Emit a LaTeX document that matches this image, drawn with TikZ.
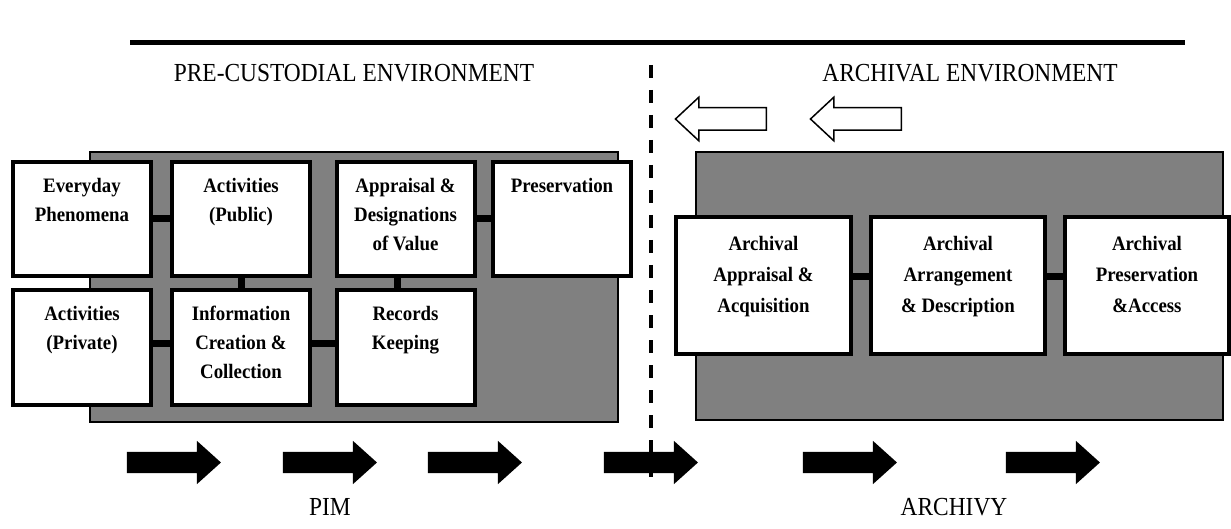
\documentclass[tikz,border=0pt]{standalone}
\usepackage{fontspec}
\setmainfont{Liberation Serif}
\newfontfamily\cardfont[FakeStretch=0.92]{Liberation Serif}
\newfontfamily\headfont[FakeStretch=0.9]{Liberation Serif}
\usetikzlibrary{positioning,shapes.arrows}

\newcommand{\cardtxt}[2]{\parbox[c][#1][t]{132pt}{\centering\cardfont\bfseries\fontsize{20.5}{29}\selectfont #2}}
\newcommand{\arctxt}[2]{\parbox[c][#1][t]{160pt}{\centering\cardfont\bfseries\fontsize{20.5}{31}\selectfont #2}}

\begin{document}
\begin{tikzpicture}[x=1pt, y=-1pt]
  % Styles
  \tikzstyle{panel}=[draw, line width=2pt, fill=black!50]
  \tikzstyle{card}=[rectangle, draw, line width=4pt, fill=white, inner sep=0pt, minimum width=138pt, minimum height=114pt]
  \tikzstyle{arcard}=[rectangle, draw, line width=4pt, fill=white, inner sep=0pt, minimum height=137pt]
  \tikzstyle{link}=[line width=7pt]
  \tikzstyle{heading}=[font=\headfont\fontsize{26}{30}\selectfont, inner sep=0pt]
  \tikzstyle{flow}=[single arrow, fill=black, inner xsep=0pt, inner ysep=10.5pt, minimum height=94pt, minimum width=43pt, single arrow head extend=11pt, single arrow tip angle=84]
  \tikzstyle{backflow}=[single arrow, shape border rotate=180, draw, line width=1.5pt, fill=white, inner xsep=0pt, inner ysep=10.5pt, minimum height=91pt, minimum width=42pt, single arrow head extend=10.5pt, single arrow tip angle=86]

  \useasboundingbox (0,0) rectangle (1231,529);

  % Top rule and headings
  \draw[line width=5pt] (130,43) -- (1185,43);
  \node[heading] (pre) at (354,73) {PRE-CUSTODIAL ENVIRONMENT};
  \node[heading] (arc) at (970,73) {ARCHIVAL ENVIRONMENT};

  % Panels
  \draw[panel] (90,152) rectangle (618,422);
  \draw[panel] (696,152) rectangle (1223,420);

  % Pre-custodial boxes
  \node[card] (every) at (82,219) {\cardtxt{82pt}{Everyday\\Phenomena}};
  \node[card] (public) at (241,219) {\cardtxt{82pt}{Activities\\(Public)}};
  \node[card] (value) at (405.5,219) {\cardtxt{82pt}{Appraisal \&\\Designations\\of Value}};
  \node[card] (pres) at (562,219) {\cardtxt{82pt}{Preservation}};
  \node[card] (private) at (82,347.5) {\cardtxt{82pt}{Activities\\(Private)}};
  \node[card] (info) at (241,347.5) {\cardtxt{82pt}{Information\\Creation \&\\Collection}};
  \node[card] (keep) at (405.5,347.5) {\cardtxt{82pt}{Records\\Keeping}};

  % Archival boxes
  \node[arcard, minimum width=175pt] (acq) at (763.5,285.5) {\arctxt{99pt}{Archival\\Appraisal \&\\Acquisition}};
  \node[arcard, minimum width=174pt] (desc) at (958,285.5) {\arctxt{99pt}{Archival\\Arrangement\\\& Description}};
  \node[arcard, minimum width=164pt] (access) at (1147,285.5) {\arctxt{99pt}{Archival\\Preservation\\\&Access}};

  % Links
  \draw[link] (every) -- (public);
  \draw[link] (value) -- (pres);
  \draw[link] (public) -- (info);
  \draw[link] ([xshift=-8.5pt]value.south) -- ([xshift=-8.5pt]keep.north);
  \draw[link] ([yshift=4.5pt]private.east) -- ([yshift=4.5pt]info.west);
  \draw[link] ([yshift=4.5pt]info.east) -- ([yshift=4.5pt]keep.west);
  \draw[link] ([yshift=8.5pt]acq.east) -- ([yshift=8.5pt]desc.west);
  \draw[link] ([yshift=8.5pt]desc.east) -- ([yshift=8.5pt]access.west);

  % Flow arrows
  \node[backflow] (back1) at (727,119) {};
  \node[backflow] (back2) at (862,119) {};
  \foreach \x/\n in {168/f1, 324/f2, 469/f3, 645/f4, 844/f5, 1047/f6}
    \node[flow] (\n) at (\x,462.5) {};

  % Boundary
  \coordinate (btop) at (651,65);
  \coordinate (bbot) at (651,477);
  \draw[line width=4pt, dash pattern=on 13pt off 12pt] (btop) -- (bbot);

  % Labels
  \node[heading] (pim) at (330,507) {PIM};
  \node[heading] (archivy) at (954,507) {ARCHIVY};
\end{tikzpicture}
\end{document}
